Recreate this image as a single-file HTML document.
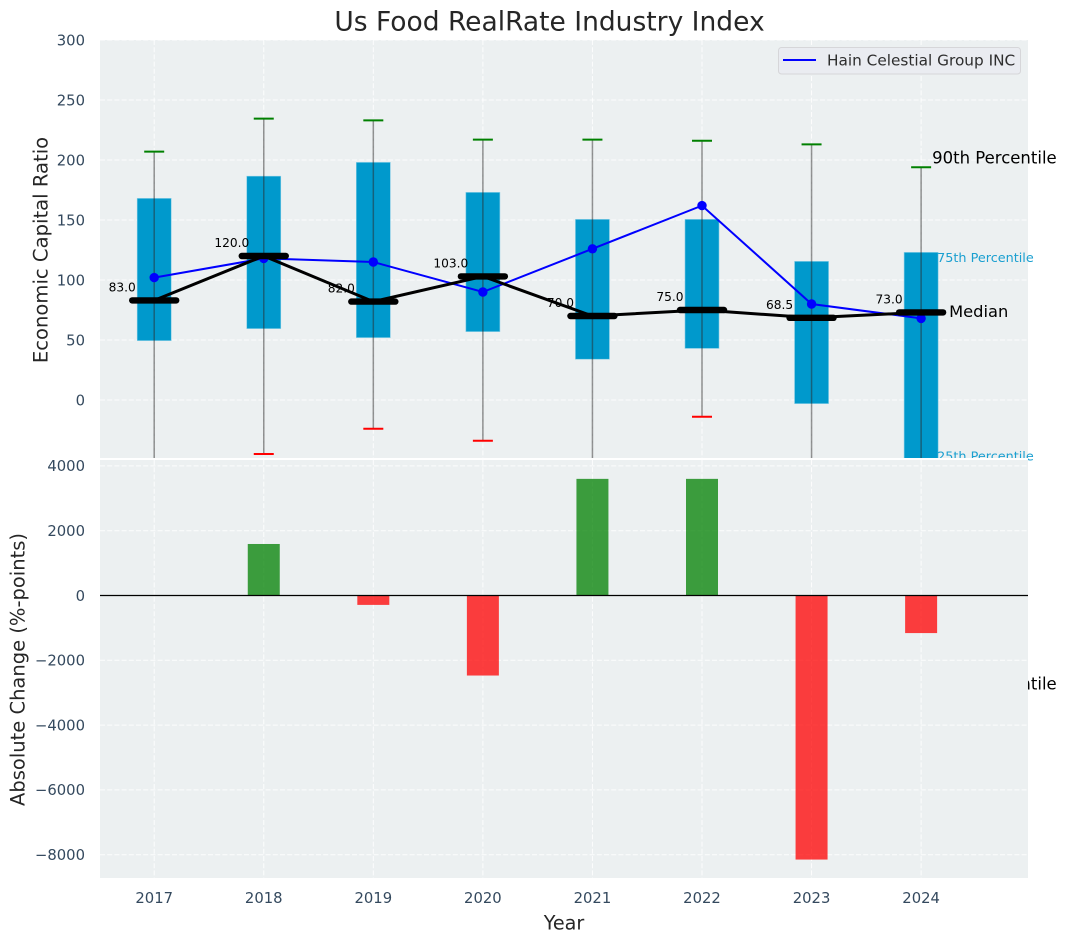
<!DOCTYPE html>
<html>
<head>
<meta charset="utf-8">
<title>Us Food RealRate Industry Index</title>
<style>
html,body{margin:0;padding:0;background:#fff;}
svg{display:block;font-family:"DejaVu Sans","Liberation Sans",sans-serif;}
</style>
</head>
<body>
<svg id="chart" width="1067" height="942" viewBox="0 0 1067 942" xmlns="http://www.w3.org/2000/svg">
<defs>
<clipPath id="top-clip"><rect x="100" y="40" width="928" height="418"></rect></clipPath>
<clipPath id="bottom-clip"><rect x="100" y="460" width="928" height="418"></rect></clipPath>
</defs>
<rect x="0" y="0" width="1067" height="942" fill="#ffffff"></rect>
<text x="549.5" y="22" font-size="26.5" fill="#262626" text-anchor="middle" dominant-baseline="central">Us Food RealRate Industry Index</text>
<rect x="100" y="40" width="928" height="418" fill="#ecf0f1"></rect>
<g id="top-grid"></g>
<g id="top-marks" clip-path="url(#top-clip)"></g>
<g id="top-notes"></g>
<rect x="100" y="458" width="928" height="2" fill="#ffffff"></rect>
<rect x="100" y="460" width="928" height="418" fill="#ecf0f1"></rect>
<g id="bottom-grid"></g>
<g id="bottom-marks" clip-path="url(#bottom-clip)"></g>
<g id="axis-labels"></g>
<text transform="translate(41 250) rotate(-90)" font-size="19.6" fill="#262626" text-anchor="middle" dominant-baseline="central">Economic Capital Ratio</text>
<text transform="translate(18 669.5) rotate(-90)" font-size="19.5" fill="#262626" text-anchor="middle" dominant-baseline="central">Absolute Change (%-points)</text>
<text x="564" y="923" font-size="19.2" fill="#262626" text-anchor="middle" dominant-baseline="central">Year</text>
<g>
<rect x="778.5" y="47.5" width="242" height="26.5" rx="3" fill="#eaecf1" stroke="#d6d6d9" stroke-width="1"></rect>
<line x1="783" y1="60" x2="816" y2="60" stroke="#0000ff" stroke-width="2"></line>
<text x="827" y="60.5" font-size="15.3" fill="#2e2e2e" dominant-baseline="central">Hain Celestial Group INC</text>
</g>
</svg>
<script>
const years = [2017, 2018, 2019, 2020, 2021, 2022, 2023, 2024];
const q3Values = [168, 186.5, 198, 173, 150.5, 150.5, 115.5, 123];
const q1Values = [49.5, 59.5, 52, 57, 34, 43, -3, -50];
const p90Values = [207, 234.5, 233, 217, 217, 216, 213, 194];
const p10Values = [-120, -45, -24, -34, -100, -14, -110, -244];
const medianValues = [83, 120, 82, 103, 70, 75, 68.5, 73];
const companyValues = [102, 118, 115, 90, 126, 162, 80, 68];
const changeValues = [0, 1590, -290, -2470, 3600, 3600, -8150, -1160];
const topTicks = [300, 250, 200, 150, 100, 50, 0];
const bottomTicks = [4000, 2000, 0, -2000, -4000, -6000, -8000];

const NS = 'http://www.w3.org/2000/svg';
function xScale(year) { return 154.2 + (year - 2017) * 109.56; }
function yTop(value) { return 400 - value * 1.2; }
function yBottom(value) { return 595.5 - value * 0.0324; }
function make(parent, tag, attrs, text) {
  const el = document.createElementNS(NS, tag);
  for (const key in attrs) el.setAttribute(key, attrs[key]);
  if (text !== undefined) el.textContent = text;
  parent.appendChild(el);
  return el;
}
function fmt(value) { return String(value).replace('-', '\u2212'); }

const topGrid = document.getElementById('top-grid');
const bottomGrid = document.getElementById('bottom-grid');
const topMarks = document.getElementById('top-marks');
const bottomMarks = document.getElementById('bottom-marks');
const topNotes = document.getElementById('top-notes');
const axisLabels = document.getElementById('axis-labels');
const gridStyle = { stroke: '#ffffff', 'stroke-width': 1, 'stroke-opacity': 0.85, 'stroke-dasharray': '5 2.2' };

topTicks.forEach(function (tick) {
  const y = yTop(tick);
  const line = make(topGrid, 'line', Object.assign({ x1: 100, x2: 1028, y1: y, y2: y }, gridStyle));
  
  
  const label = make(axisLabels, 'text', { x: 85, y: y + 0.8, 'font-size': 14.8, fill: '#34495e', 'text-anchor': 'end', 'dominant-baseline': 'central' }, fmt(tick));
  
  
});

bottomTicks.forEach(function (tick) {
  const y = yBottom(tick);
  const line = make(bottomGrid, 'line', Object.assign({ x1: 100, x2: 1028, y1: y, y2: y }, gridStyle));
  
  
  const label = make(axisLabels, 'text', { x: 85, y: y + 0.8, 'font-size': 14.8, fill: '#34495e', 'text-anchor': 'end', 'dominant-baseline': 'central' }, fmt(tick));
  
  
});

years.forEach(function (year) {
  const x = xScale(year);
  const topLine = make(topGrid, 'line', Object.assign({ x1: x, x2: x, y1: 40, y2: 458 }, gridStyle));
  
  
  const bottomLine = make(bottomGrid, 'line', Object.assign({ x1: x, x2: x, y1: 460, y2: 878 }, gridStyle));
  
  
  const label = make(axisLabels, 'text', { x: x, y: 898.5, 'font-size': 14.8, fill: '#34495e', 'text-anchor': 'middle', 'dominant-baseline': 'central' }, String(year));
  
  
});

years.forEach(function (year, i) {
  const x = xScale(year);
  const box = make(topMarks, 'rect', { x: x - 17, y: yTop(q3Values[i]), width: 34, height: yTop(q1Values[i]) - yTop(q3Values[i]), fill: '#0099cc', stroke: '#7fcbe5', 'stroke-width': 0.6 });
  
  
  const whisker = make(topMarks, 'line', { x1: x, x2: x, y1: yTop(p90Values[i]), y2: yTop(p10Values[i]), stroke: '#2a2a2a', 'stroke-opacity': 0.5, 'stroke-width': 1.5 });
  
  
  const highCap = make(topMarks, 'line', { x1: x - 10, x2: x + 10, y1: yTop(p90Values[i]), y2: yTop(p90Values[i]), stroke: '#008000', 'stroke-width': 2 });
  
  
  const lowCap = make(topMarks, 'line', { x1: x - 10, x2: x + 10, y1: yTop(p10Values[i]), y2: yTop(p10Values[i]), stroke: '#ff0000', 'stroke-width': 2 });
  
  
});

years.forEach(function (year, i) {
  const label = make(topMarks, 'text', { x: xScale(year) - 32, y: yTop(medianValues[i]) - 13, 'font-size': 12.2, fill: '#000000', 'text-anchor': 'middle', 'dominant-baseline': 'central' }, medianValues[i].toFixed(1));
  
  
});

const companyPoints = years.map(function (year, i) { return xScale(year) + ',' + yTop(companyValues[i]); }).join(' ');
const companyLine = make(topMarks, 'polyline', { points: companyPoints, fill: 'none', stroke: '#0000ff', 'stroke-width': 2 });


years.forEach(function (year, i) {
  const dot = make(topMarks, 'circle', { cx: xScale(year), cy: yTop(companyValues[i]), r: 4.7, fill: '#0000ff' });
  
  
});

const medianPoints = years.map(function (year, i) { return xScale(year) + ',' + yTop(medianValues[i]); }).join(' ');
const medianLine = make(topMarks, 'polyline', { points: medianPoints, fill: 'none', stroke: '#000000', 'stroke-width': 3 });


years.forEach(function (year, i) {
  const x = xScale(year);
  const y = yTop(medianValues[i]);
  const bar = make(topMarks, 'line', { x1: x - 22, x2: x + 22, y1: y, y2: y, stroke: '#000000', 'stroke-width': 6.4, 'stroke-linecap': 'round' });
  
  
});

const last = years.length - 1;
const lastX = xScale(years[last]);
const note90 = make(topNotes, 'text', { x: lastX + 11, y: yTop(p90Values[last]) - 9, 'font-size': 16.5, fill: '#000000', 'dominant-baseline': 'central' }, '90th Percentile');


const note75 = make(topNotes, 'text', { x: lastX + 16, y: yTop(q3Values[last]) + 6, 'font-size': 12.8, fill: '#1a9fd0', 'dominant-baseline': 'central' }, '75th Percentile');


const noteMedian = make(topNotes, 'text', { x: lastX + 28, y: yTop(medianValues[last]) - 1, 'font-size': 16.3, fill: '#000000', 'dominant-baseline': 'central' }, 'Median');


const note25 = make(topNotes, 'text', { x: lastX + 16, y: yTop(q1Values[last]) - 3, 'font-size': 12.8, fill: '#1a9fd0', 'dominant-baseline': 'central' }, '25th Percentile');


const note10 = make(topNotes, 'text', { x: lastX + 11, y: yTop(p10Values[last]) - 9, 'font-size': 16.5, fill: '#000000', 'dominant-baseline': 'central' }, '10th Percentile');



years.forEach(function (year, i) {
  const value = changeValues[i];
  if (value === 0) return;
  const yA = yBottom(Math.max(value, 0));
  const yB = yBottom(Math.min(value, 0));
  const bar = make(bottomMarks, 'rect', { x: xScale(year) - 16, y: yA, width: 32, height: yB - yA, fill: value > 0 ? '#008000' : '#ff0000', 'fill-opacity': 0.75 });
  
  
});
const zeroLine = make(bottomMarks, 'line', { x1: 100, x2: 1028, y1: yBottom(0), y2: yBottom(0), stroke: '#000000', 'stroke-width': 1.2 });


</script>
</body>
</html>
